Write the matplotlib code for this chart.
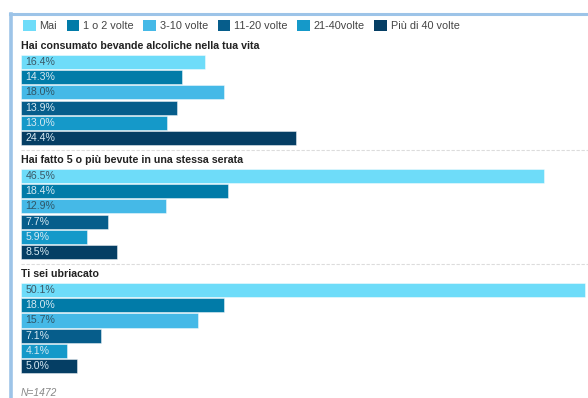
import matplotlib.pyplot as plt
from matplotlib.patches import Patch
from matplotlib.lines import Line2D

plt.rcParams['font.family'] = ['Liberation Sans', 'DejaVu Sans']

categories = ['Mai', '1 o 2 volte', '3-10 volte', '11-20 volte', '21-40volte', 'Più di 40 volte']
colors = ['#6edcf9', '#017ba8', '#45b9e7', '#065d8b', '#1599c9', '#053e64']
label_colors = ['#3b5866', '#d6e9f2', '#2f5566', '#d6e9f2', '#d6e9f2', '#d6e9f2']

questions = ['Hai consumato bevande alcoliche nella tua vita',
             'Hai fatto 5 o più bevute in una stessa serata',
             'Ti sei ubriacato']
values = [
    [16.4, 14.3, 18.0, 13.9, 13.0, 24.4],
    [46.5, 18.4, 12.9, 7.7, 5.9, 8.5],
    [50.1, 18.0, 15.7, 7.1, 4.1, 5.0],
]
note = 'N=1472'

fig = plt.figure(figsize=(5.88, 3.98), dpi=100)
fig.patch.set_facecolor('white')
ax = fig.add_axes([12/588, 0, 1 - 12/588, 1 - 15/398])
ax.set_facecolor('#f7f7f7')

group_gap = 7.5
for g, (q, vals) in enumerate(zip(questions, values)):
    base = g * group_gap
    for r, v in enumerate(vals):
        ax.barh(base + r, v, height=0.93, color=colors[r],
                edgecolor=(1, 1, 1, 0.45), linewidth=0.7)
        ax.text(0.4, base + r, f'{v:.1f}%', va='center', ha='left',
                fontsize=7.6, color=label_colors[r])
    ax.text(0, base - 1.05, q, va='center', ha='left', fontsize=7.7,
            fontweight='bold', color='#222222')
    if g < len(questions) - 1:
        ax.plot([0, 60], [base + 5.79, base + 5.79], color='#dcdcdc',
                linewidth=0.8, linestyle=(0, (3, 1.5)))

ax.text(0, 21.75, note, va='center', ha='left', fontsize=7.4, style='italic',
        color='#888888')

ax.set_xlim(-0.8, 50.4)
ax.set_ylim(22.1, -3.09)
ax.axis('off')

handles = [Patch(facecolor=c, edgecolor='none') for c in colors]
ax.legend(handles, categories, loc='center left', bbox_to_anchor=(0.012, 1 - (25.5 - 15) / 383),
          ncol=6, frameon=False, fontsize=7.8, handlelength=1.15, handleheight=1.15,
          handletextpad=0.35, columnspacing=0.9, borderaxespad=0, labelcolor='#444444')

# blue border top and left
fig.add_artist(Line2D([10/588, 1], [1 - 14/398, 1 - 14/398], color='#9dc4e8', linewidth=2.2))
fig.add_artist(Line2D([10.5/588, 10.5/588], [0, 1 - 14/398], color='#9dc4e8', linewidth=2.6))

fig.savefig('out.png', dpi=100, facecolor=fig.get_facecolor())
